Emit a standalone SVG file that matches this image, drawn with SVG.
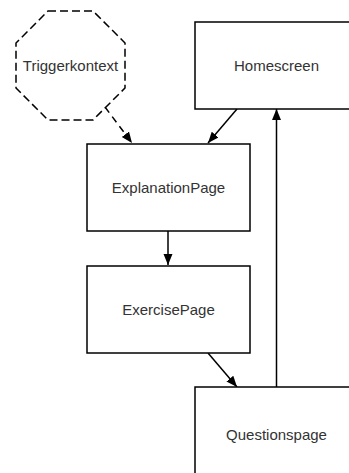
<svg xmlns="http://www.w3.org/2000/svg" width="349" height="473" viewBox="0 0 349 473">
  <style>
    .node { fill: #ffffff; stroke: #000000; stroke-width: 1.5; }
    .trigger { fill: #ffffff; stroke: #000000; stroke-width: 1.5; stroke-dasharray: 8 4; }
    .label { font-family: "Liberation Sans", Arial, sans-serif; font-size: 15px; fill: #333333; text-anchor: middle; }
    .edge { fill: none; stroke: #000000; stroke-width: 1.5; marker-end: url(#arrow); }
    .dashed { stroke-dasharray: 7 5; }
  </style>
  <defs>
    <marker id="arrow" markerUnits="userSpaceOnUse" markerWidth="12" markerHeight="10" refX="11" refY="4.5" orient="auto">
      <path d="M0,0 L11,4.5 L0,9 z" fill="#000000"/>
    </marker>
  </defs>
  <rect width="349" height="473" fill="#ffffff"/>

  <g id="connectors">
    <line class="edge dashed" x1="105" y1="107" x2="132" y2="143"/>
    <line class="edge" x1="237" y1="109" x2="208" y2="143"/>
    <line class="edge" x1="168" y1="231" x2="168" y2="265"/>
    <line class="edge" x1="208" y1="353" x2="237" y2="387"/>
    <line class="edge" x1="276.5" y1="387" x2="276.5" y2="109"/>
  </g>

  <g id="triggerkontext">
    <polygon class="trigger" points="48,11 93,11 125,43 125,88 93,120 48,120 16,88 16,43"/>
    <text class="label" x="70.5" y="71">Triggerkontext</text>
  </g>

  <g id="homescreen">
    <rect class="node" x="195" y="22" width="163" height="87"/>
    <text class="label" x="276.5" y="71">Homescreen</text>
  </g>

  <g id="explanationpage">
    <rect class="node" x="87" y="144" width="163" height="87"/>
    <text class="label" x="168.5" y="193">ExplanationPage</text>
  </g>

  <g id="exercisepage">
    <rect class="node" x="87" y="266" width="163" height="87"/>
    <text class="label" x="168.5" y="315">ExercisePage</text>
  </g>

  <g id="questionspage">
    <rect class="node" x="195" y="387" width="163" height="95"/>
    <text class="label" x="276.5" y="440">Questionspage</text>
  </g>
</svg>
